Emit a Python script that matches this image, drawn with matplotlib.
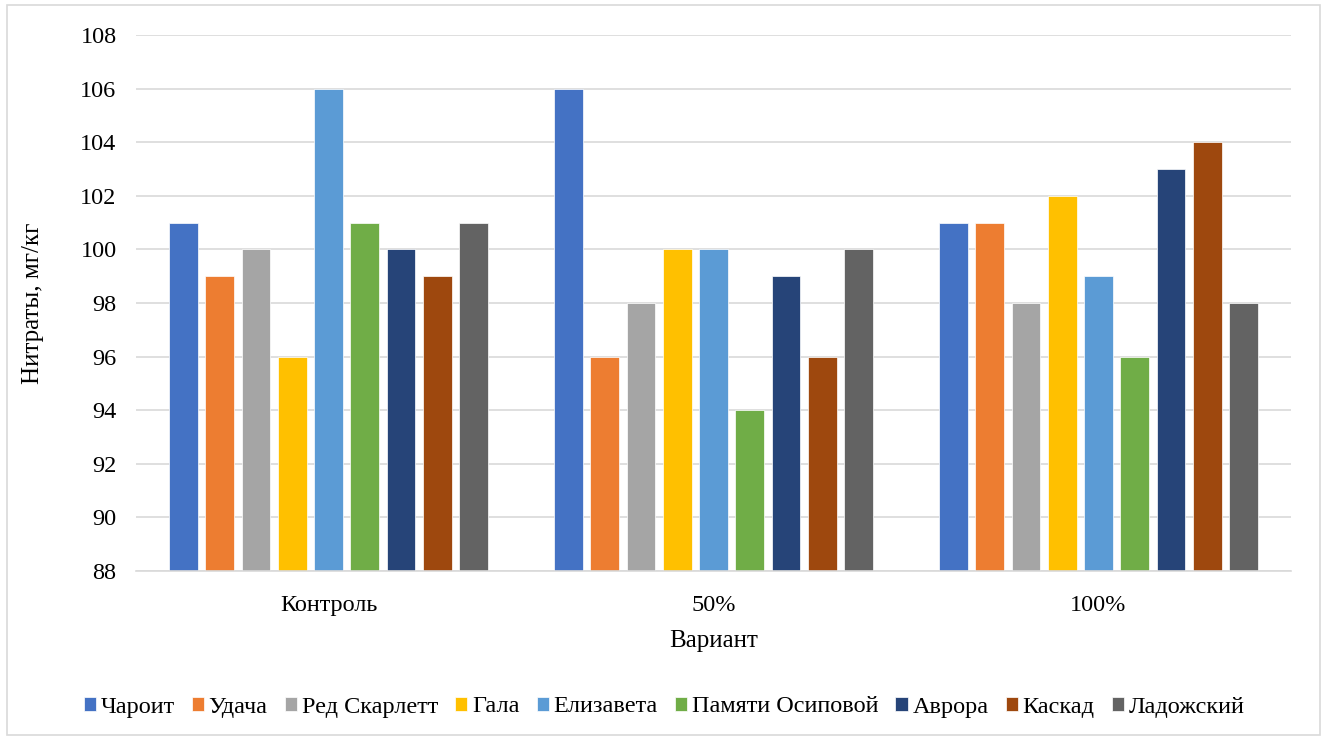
import numpy as np
import matplotlib.pyplot as plt
from matplotlib.patches import Rectangle

plt.rcParams["font.family"] = ["Liberation Serif", "DejaVu Serif"]

variants = ["Контроль", "50%", "100%"]
cultivars = ["Чароит", "Удача", "Ред Скарлетт", "Гала", "Елизавета",
             "Памяти Осиповой", "Аврора", "Каскад", "Ладожский"]
colors = ["#4472C4", "#ED7D31", "#A5A5A5", "#FFC000", "#5B9BD5",
          "#70AD47", "#264478", "#9E480E", "#636363"]

charoit = [101, 106, 101]
udacha = [99, 96, 101]
red_scarlett = [100, 98, 98]
gala = [96, 100, 102]
elizaveta = [106, 100, 99]
osipova = [101, 94, 96]
avrora = [100, 99, 103]
kaskad = [99, 96, 104]
ladozhsky = [101, 100, 98]
series = [charoit, udacha, red_scarlett, gala, elizaveta,
          osipova, avrora, kaskad, ladozhsky]

fig = plt.figure(figsize=(13.28, 7.4), dpi=100)
ax = fig.add_axes([136 / 1328, 1 - 571 / 740, (1291 - 136) / 1328, (571 - 35) / 740])

x = np.arange(len(variants))
pitch = 0.0942
width = 0.075
offsets = (np.arange(len(series)) - (len(series) - 1) / 2) * pitch
for vals, name, col, off in zip(series, cultivars, colors, offsets):
    ax.bar(x + off, np.array(vals) - 88, width, bottom=88, color=col,
           edgecolor="white", linewidth=0.5, label=name, zorder=3)

ax.set_ylim(88, 108)
ax.set_yticks(np.arange(88, 109, 2))
ax.set_xlim(-0.5, 2.5)
ax.set_xticks(x)
ax.set_xticklabels(variants)
ax.tick_params(axis="both", length=0, labelsize=17.5, colors="black")
ax.tick_params(axis="x", pad=17)
ax.tick_params(axis="y", pad=14)
ax.grid(axis="y", color="#D9D9D9", linewidth=1.2, zorder=0)
for s in ["top", "right", "left"]:
    ax.spines[s].set_visible(False)
ax.spines["bottom"].set_color("#D9D9D9")
ax.spines["bottom"].set_linewidth(1.2)
ax.spines["bottom"].set_zorder(4)

ax.set_ylabel("Нитраты, мг/кг", fontsize=18, labelpad=26)
ax.set_xlabel("Вариант", fontsize=18, labelpad=10)

fig.legend(loc="center", bbox_to_anchor=(0.5, 1 - 707 / 740), ncol=9,
           frameon=False, fontsize=17.5, handlelength=0.5, handleheight=0.5,
           handletextpad=0.2, columnspacing=0.7)

fig.patches.append(Rectangle((7 / 1328, 5 / 740), 1313 / 1328, 730 / 740,
                             transform=fig.transFigure, fill=False,
                             edgecolor="#D9D9D9", linewidth=1.2))

fig.savefig("out.png", dpi=100)
